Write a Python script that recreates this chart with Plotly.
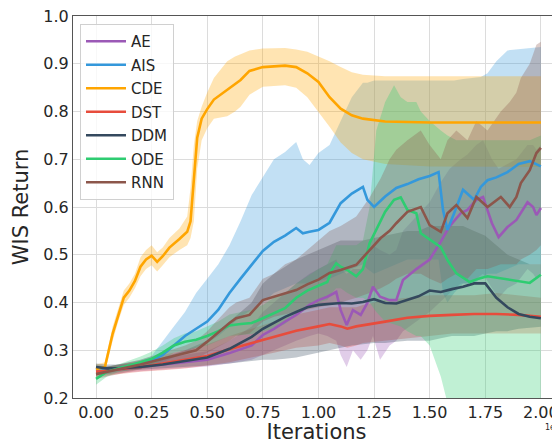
import plotly.graph_objects as go

# ---------------- data (x in units of 1e5 iterations) ----------------
AE_X = [0, .1, .2, .3, .4, .5, .6, .7, .75, .8, .85, .9, .96, 1.0, 1.04, 1.08, 1.1, 1.127, 1.155, 1.19, 1.22, 1.245, 1.277, 1.32, 1.35, 1.38, 1.44, 1.5, 1.547, 1.59, 1.64, 1.67, 1.71, 1.74, 1.78, 1.81, 1.85, 1.89, 1.94, 1.965, 1.98, 2.0]
AE_MEAN = [0.255, 0.26, 0.265, 0.27, 0.275, 0.28, 0.294, 0.31, 0.332, 0.345, 0.36, 0.374, 0.395, 0.405, 0.412, 0.422, 0.384, 0.353, 0.384, 0.374, 0.399, 0.433, 0.412, 0.405, 0.405, 0.447, 0.47, 0.49, 0.525, 0.56, 0.587, 0.594, 0.615, 0.621, 0.566, 0.537, 0.558, 0.573, 0.61, 0.60, 0.583, 0.598]
AE_HI = [0.262, 0.268, 0.275, 0.283, 0.29, 0.298, 0.32, 0.35, 0.38, 0.40, 0.42, 0.44, 0.46, 0.47, 0.48, 0.49, 0.47, 0.46, 0.47, 0.47, 0.49, 0.52, 0.51, 0.50, 0.51, 0.55, 0.58, 0.61, 0.65, 0.68, 0.70, 0.71, 0.73, 0.74, 0.70, 0.68, 0.69, 0.70, 0.73, 0.73, 0.72, 0.73]
AE_LO = [0.248, 0.252, 0.256, 0.26, 0.263, 0.266, 0.272, 0.28, 0.29, 0.30, 0.31, 0.32, 0.33, 0.335, 0.33, 0.32, 0.29, 0.265, 0.30, 0.28, 0.30, 0.33, 0.28, 0.31, 0.32, 0.34, 0.36, 0.38, 0.40, 0.42, 0.44, 0.44, 0.45, 0.46, 0.43, 0.41, 0.43, 0.44, 0.47, 0.46, 0.45, 0.46]

AIS_X = [0, .05, .1, .15, .2, .25, .3, .35, .4, .45, .5, .55, .6, .65, .7, .75, .8, .85, .9, .93, .96, 1.0, 1.05, 1.1, 1.15, 1.2, 1.22, 1.25, 1.3, 1.35, 1.4, 1.45, 1.5, 1.54, 1.56, 1.58, 1.61, 1.65, 1.7, 1.73, 1.76, 1.8, 1.85, 1.9, 1.95, 2.0]
AIS_MEAN = [0.262, 0.258, 0.262, 0.266, 0.27, 0.278, 0.29, 0.31, 0.33, 0.345, 0.36, 0.385, 0.42, 0.45, 0.478, 0.508, 0.527, 0.54, 0.556, 0.545, 0.548, 0.552, 0.567, 0.608, 0.628, 0.642, 0.615, 0.60, 0.622, 0.64, 0.648, 0.658, 0.665, 0.673, 0.594, 0.552, 0.587, 0.636, 0.615, 0.642, 0.656, 0.662, 0.673, 0.69, 0.696, 0.685]
AIS_HI = [0.27, 0.266, 0.27, 0.275, 0.28, 0.288, 0.32, 0.35, 0.38, 0.42, 0.45, 0.48, 0.52, 0.57, 0.625, 0.663, 0.70, 0.715, 0.736, 0.70, 0.688, 0.713, 0.73, 0.78, 0.83, 0.86, 0.86, 0.865, 0.865, 0.865, 0.865, 0.865, 0.865, 0.865, 0.865, 0.865, 0.865, 0.868, 0.87, 0.872, 0.88, 0.905, 0.928, 0.93, 0.932, 0.935]
AIS_LO = [0.255, 0.25, 0.255, 0.258, 0.262, 0.268, 0.275, 0.285, 0.295, 0.305, 0.315, 0.33, 0.35, 0.37, 0.385, 0.40, 0.42, 0.43, 0.44, 0.44, 0.44, 0.445, 0.45, 0.46, 0.47, 0.48, 0.47, 0.46, 0.47, 0.48, 0.49, 0.49, 0.49, 0.49, 0.42, 0.40, 0.42, 0.44, 0.44, 0.45, 0.46, 0.46, 0.47, 0.48, 0.48, 0.48]

CDE_X = [0, .04, .075, .1, .125, .15, .175, .2, .225, .25, .275, .3, .33, .375, .41, .425, .44, .455, .475, .5, .53, .59, .625, .65, .69, .75, .85, .9, .95, 1.0, 1.05, 1.1, 1.15, 1.2, 1.3, 1.5, 2.0]
CDE_MEAN = [0.26, 0.265, 0.335, 0.375, 0.41, 0.425, 0.445, 0.475, 0.49, 0.498, 0.485, 0.497, 0.515, 0.533, 0.548, 0.57, 0.65, 0.745, 0.785, 0.805, 0.825, 0.845, 0.857, 0.866, 0.885, 0.893, 0.896, 0.893, 0.88, 0.862, 0.83, 0.806, 0.792, 0.785, 0.779, 0.777, 0.777]
CDE_HI = [0.27, 0.275, 0.35, 0.39, 0.425, 0.44, 0.46, 0.495, 0.51, 0.52, 0.505, 0.515, 0.535, 0.555, 0.58, 0.64, 0.73, 0.78, 0.81, 0.84, 0.87, 0.905, 0.915, 0.92, 0.928, 0.932, 0.933, 0.93, 0.925, 0.915, 0.905, 0.893, 0.882, 0.877, 0.874, 0.874, 0.874]
CDE_LO = [0.25, 0.255, 0.32, 0.36, 0.395, 0.41, 0.43, 0.455, 0.47, 0.478, 0.465, 0.478, 0.495, 0.51, 0.52, 0.535, 0.57, 0.68, 0.74, 0.765, 0.785, 0.79, 0.80, 0.81, 0.835, 0.852, 0.855, 0.85, 0.83, 0.80, 0.768, 0.735, 0.713, 0.70, 0.69, 0.685, 0.684]

DST_X = [0, .1, .2, .3, .4, .5, .6, .7, .8, .9, 1.0, 1.05, 1.1, 1.13, 1.17, 1.2, 1.3, 1.4, 1.5, 1.6, 1.7, 1.8, 1.9, 2.0]
DST_MEAN = [0.255, 0.26, 0.265, 0.272, 0.28, 0.288, 0.302, 0.315, 0.328, 0.341, 0.35, 0.355, 0.35, 0.345, 0.35, 0.352, 0.36, 0.368, 0.372, 0.374, 0.376, 0.376, 0.374, 0.37]
DST_HI = [0.262, 0.27, 0.278, 0.29, 0.30, 0.312, 0.33, 0.345, 0.36, 0.375, 0.385, 0.39, 0.39, 0.39, 0.39, 0.395, 0.405, 0.41, 0.415, 0.415, 0.415, 0.42, 0.415, 0.41]
DST_LO = [0.245, 0.25, 0.255, 0.258, 0.262, 0.268, 0.275, 0.285, 0.295, 0.305, 0.31, 0.315, 0.31, 0.305, 0.31, 0.315, 0.32, 0.325, 0.33, 0.335, 0.335, 0.335, 0.335, 0.335]

DDM_X = [0, .05, .1, .2, .3, .4, .5, .6, .7, .75, .8, .85, .9, .95, 1.0, 1.05, 1.1, 1.15, 1.2, 1.25, 1.3, 1.35, 1.4, 1.45, 1.5, 1.55, 1.6, 1.65, 1.7, 1.75, 1.8, 1.85, 1.9, 1.95, 2.0]
DDM_MEAN = [0.265, 0.262, 0.262, 0.265, 0.27, 0.278, 0.285, 0.303, 0.328, 0.345, 0.358, 0.37, 0.38, 0.39, 0.395, 0.397, 0.399, 0.398, 0.401, 0.407, 0.399, 0.398, 0.405, 0.413, 0.425, 0.422, 0.428, 0.433, 0.44, 0.44, 0.41, 0.39, 0.376, 0.37, 0.367]
DDM_HI = [0.272, 0.27, 0.27, 0.275, 0.285, 0.30, 0.32, 0.36, 0.40, 0.44, 0.46, 0.475, 0.49, 0.50, 0.51, 0.52, 0.53, 0.53, 0.53, 0.535, 0.54, 0.545, 0.55, 0.55, 0.56, 0.56, 0.56, 0.56, 0.55, 0.54, 0.52, 0.50, 0.49, 0.48, 0.48]
DDM_LO = [0.258, 0.255, 0.255, 0.258, 0.262, 0.265, 0.268, 0.272, 0.277, 0.28, 0.28, 0.282, 0.285, 0.29, 0.294, 0.30, 0.305, 0.31, 0.312, 0.315, 0.315, 0.318, 0.32, 0.32, 0.32, 0.325, 0.33, 0.33, 0.33, 0.335, 0.34, 0.34, 0.345, 0.347, 0.349]

ODE_X = [0, .05, .1, .15, .2, .25, .3, .35, .4, .45, .5, .55, .6, .65, .7, .75, .8, .85, .9, .95, 1.0, 1.04, 1.06, 1.08, 1.1, 1.13, 1.17, 1.2, 1.23, 1.26, 1.3, 1.34, 1.37, 1.4, 1.44, 1.46, 1.5, 1.55, 1.58, 1.62, 1.68, 1.72, 1.76, 1.8, 1.85, 1.9, 1.95, 2.0]
ODE_MEAN = [0.24, 0.255, 0.262, 0.268, 0.275, 0.282, 0.295, 0.31, 0.318, 0.322, 0.33, 0.34, 0.352, 0.355, 0.357, 0.367, 0.378, 0.388, 0.41, 0.425, 0.435, 0.443, 0.468, 0.482, 0.475, 0.468, 0.455, 0.47, 0.524, 0.552, 0.59, 0.615, 0.62, 0.594, 0.587, 0.545, 0.532, 0.516, 0.489, 0.461, 0.443, 0.45, 0.455, 0.452, 0.449, 0.445, 0.441, 0.458]
ODE_HI = [0.25, 0.265, 0.27, 0.278, 0.287, 0.297, 0.31, 0.325, 0.335, 0.34, 0.35, 0.36, 0.375, 0.38, 0.385, 0.395, 0.41, 0.42, 0.44, 0.455, 0.47, 0.48, 0.50, 0.52, 0.52, 0.52, 0.52, 0.53, 0.60, 0.76, 0.82, 0.855, 0.83, 0.82, 0.82, 0.80, 0.78, 0.76, 0.75, 0.74, 0.74, 0.74, 0.74, 0.74, 0.74, 0.74, 0.74, 0.75]
ODE_LO = [0.228, 0.245, 0.254, 0.258, 0.263, 0.268, 0.28, 0.295, 0.30, 0.305, 0.31, 0.32, 0.33, 0.332, 0.334, 0.34, 0.345, 0.355, 0.375, 0.39, 0.40, 0.405, 0.42, 0.43, 0.43, 0.42, 0.41, 0.41, 0.40, 0.38, 0.36, 0.355, 0.35, 0.34, 0.33, 0.33, 0.31, 0.245, 0.19, 0.15, 0.1, 0.05, 0.05, 0.05, 0.05, 0.05, 0.1, 0.15]

RNN_X = [0, .05, .1, .2, .3, .4, .45, .5, .56, .6, .63, .69, .75, .8, .85, .9, .95, 1.0, 1.05, 1.1, 1.17, 1.23, 1.28, 1.32, 1.35, 1.4, 1.46, 1.5, 1.55, 1.58, 1.62, 1.67, 1.71, 1.76, 1.82, 1.86, 1.89, 1.91, 1.95, 1.98, 2.0]
RNN_MEAN = [0.25, 0.255, 0.26, 0.27, 0.282, 0.293, 0.30, 0.318, 0.342, 0.357, 0.367, 0.374, 0.405, 0.412, 0.42, 0.426, 0.438, 0.448, 0.462, 0.468, 0.479, 0.51, 0.535, 0.55, 0.566, 0.59, 0.60, 0.562, 0.548, 0.587, 0.604, 0.577, 0.621, 0.60, 0.621, 0.60, 0.621, 0.65, 0.677, 0.713, 0.724]
RNN_HI = [0.26, 0.265, 0.27, 0.28, 0.295, 0.31, 0.32, 0.34, 0.37, 0.39, 0.40, 0.41, 0.45, 0.46, 0.48, 0.49, 0.51, 0.53, 0.55, 0.56, 0.58, 0.62, 0.66, 0.70, 0.72, 0.74, 0.76, 0.73, 0.70, 0.74, 0.76, 0.74, 0.78, 0.76, 0.80, 0.82, 0.84, 0.87, 0.90, 0.94, 0.946]
RNN_LO = [0.24, 0.245, 0.25, 0.26, 0.27, 0.278, 0.282, 0.295, 0.31, 0.32, 0.33, 0.335, 0.36, 0.37, 0.375, 0.38, 0.385, 0.39, 0.395, 0.40, 0.41, 0.42, 0.43, 0.44, 0.45, 0.46, 0.46, 0.45, 0.44, 0.45, 0.46, 0.45, 0.47, 0.47, 0.48, 0.48, 0.48, 0.49, 0.50, 0.51, 0.52]

NAMES = ["AE", "AIS", "CDE", "DST", "DDM", "ODE", "RNN"]
COLORS = ["#9b59b6", "#3498db", "#ffa500", "#e74c3c", "#34495e", "#2ecc71", "#8c564b"]
X_TICKS = [0.0, 0.25, 0.5, 0.75, 1.0, 1.25, 1.5, 1.75, 2.0]
X_TICK_TEXT = ["0.00", "0.25", "0.50", "0.75", "1.00", "1.25", "1.50", "1.75", "2.00"]
Y_TICKS = [0.2, 0.3, 0.4, 0.5, 0.6, 0.7, 0.8, 0.9, 1.0]

SERIES = [
    (AE_X, AE_MEAN, AE_LO, AE_HI),
    (AIS_X, AIS_MEAN, AIS_LO, AIS_HI),
    (CDE_X, CDE_MEAN, CDE_LO, CDE_HI),
    (DST_X, DST_MEAN, DST_LO, DST_HI),
    (DDM_X, DDM_MEAN, DDM_LO, DDM_HI),
    (ODE_X, ODE_MEAN, ODE_LO, ODE_HI),
    (RNN_X, RNN_MEAN, RNN_LO, RNN_HI),
]


def rgba(hexcol, a):
    h = hexcol.lstrip("#")
    r, g, b = int(h[0:2], 16), int(h[2:4], 16), int(h[4:6], 16)
    return f"rgba({r},{g},{b},{a})"


fig = go.Figure()

# bands first (as matplotlib draws collections below lines)
for name, col, (xs, m, lo, hi) in zip(NAMES, COLORS, SERIES):
    fig.add_trace(go.Scatter(
        x=list(xs) + list(xs)[::-1],
        y=list(hi) + list(lo)[::-1],
        fill="toself", fillcolor=rgba(col, 0.3),
        line=dict(width=0), mode="lines", hoverinfo="skip",
        showlegend=False,
    ))

for name, col, (xs, m, lo, hi) in zip(NAMES, COLORS, SERIES):
    fig.add_trace(go.Scatter(
        x=xs, y=m, mode="lines", name=name, legendgroup=name,
        line=dict(color=col, width=2.6),
    ))

# The page body adds an 8px offset; the figure is sized/margined to compensate.
W, H = 552, 436
ML, MR, MT, MB = 65, 0, 8, 46
PW = W - ML - MR
PH = H - MT - MB

fig.add_annotation(
    text="1e5", xref="paper", yref="paper",
    x=(551 - 81) / PW, y=-(427 - 398) / PH,
    xanchor="left", yanchor="middle", showarrow=False,
    font=dict(family="DejaVu Sans", size=8, color="#262626"),
)

fig.update_layout(
    width=W, height=H,
    margin=dict(l=ML, r=MR, t=MT, b=MB, autoexpand=False),
    paper_bgcolor="white", plot_bgcolor="white",
    font=dict(family="DejaVu Sans", color="#262626"),
    showlegend=True,
    legend=dict(
        x=(80 - 73) / PW, y=(398 - 24) / PH, xanchor="left", yanchor="top",
        bgcolor="rgba(255,255,255,0.8)", bordercolor="#d0d0d0", borderwidth=1,
        font=dict(size=15, color="#262626"), itemwidth=40, tracegroupgap=1,
    ),
    xaxis=dict(
        range=[-0.1034, 2.086], tickvals=X_TICKS, ticktext=X_TICK_TEXT,
        showgrid=True, gridcolor="#dcdcdc", gridwidth=1,
        showline=True, linecolor="#555555", linewidth=1.2, mirror=True,
        zeroline=False, ticks="", tickfont=dict(size=16), automargin=False,
        ticklabeloverflow="allow",
        title=dict(text="Iterations", font=dict(size=21), standoff=4),
    ),
    yaxis=dict(
        range=[0.2, 1.0], tickvals=Y_TICKS, tickformat=".1f",
        showgrid=True, gridcolor="#dcdcdc", gridwidth=1,
        showline=True, linecolor="#555555", linewidth=1.2,
        zeroline=False, ticks="", tickfont=dict(size=16), automargin=False,
        ticklabeloverflow="allow",
        title=dict(text="WIS Return", font=dict(size=21), standoff=8),
    ),
)

fig.write_html("out.html")
